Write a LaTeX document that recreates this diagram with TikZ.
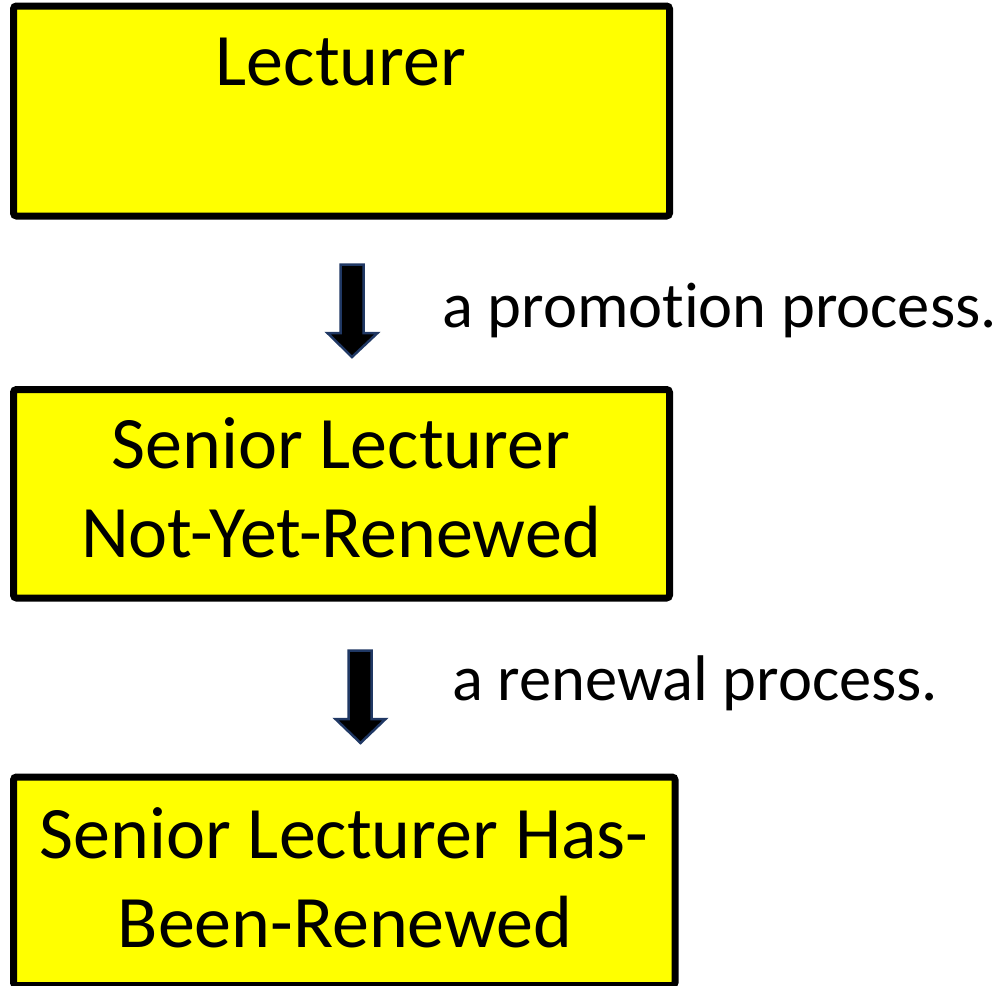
\documentclass[tikz,border=0pt]{standalone}
\usepackage{fontspec}
\setmainfont[RawFeature={-liga}]{Carlito}
\definecolor{boxyellow}{RGB}{255,255,0}
\definecolor{arrowedge}{RGB}{32,56,100}
\begin{document}
\begin{tikzpicture}[x=1pt,y=-1pt,
  statebox/.style={draw=black,line width=7pt,rounded corners=3pt,fill=boxyellow,inner sep=0pt},
  boxtext/.style={anchor=base,inner sep=0pt,font=\fontsize{74}{89}\selectfont},
  labeltext/.style={anchor=base west,inner sep=0pt,font=\fontsize{64.5}{78}\selectfont},
  blockarrow/.style={fill=black,draw=arrowedge,line width=2.5pt,line join=miter}]
\useasboundingbox (0,0) rectangle (1001,985);
\clip (0,0) rectangle (1001,985);
% boxes
\node[statebox,minimum width=656pt,minimum height=210pt] (b1) at (341.5,111) {};
\node[statebox,minimum width=656pt,minimum height=208.5pt] (b2) at (341.5,493.75) {};
\node[statebox,minimum width=661.5pt,minimum height=208.5pt] (b3) at (344.25,881.25) {};
% box texts
\node[boxtext] (t1) at (341,85) {Lecturer};
\node[boxtext] (t2a) at (341,468) {Senior Lecturer};
\node[boxtext] (t2b) at (341,557) {Not-Yet-Renewed};
\node[boxtext] (t3a) at (344,858) {Senior Lecturer Has-};
\node[boxtext] (t3b) at (345,947) {Been-Renewed};
% block arrows
\draw[blockarrow] (340.5,264.5) -- (363.5,264.5) -- (363.5,333) -- (377.5,333) -- (352,357) -- (327.5,333) -- (340.5,333) -- cycle;
\draw[blockarrow] (348.5,650.5) -- (371.5,650.5) -- (371.5,719) -- (385.5,719) -- (360.5,743) -- (335.5,719) -- (348.5,719) -- cycle;
% labels
\node[labeltext] (l1) at (442,327) {a promotion process.};
\node[labeltext] (l2) at (452,700) {a renewal process.};
\end{tikzpicture}
\end{document}
